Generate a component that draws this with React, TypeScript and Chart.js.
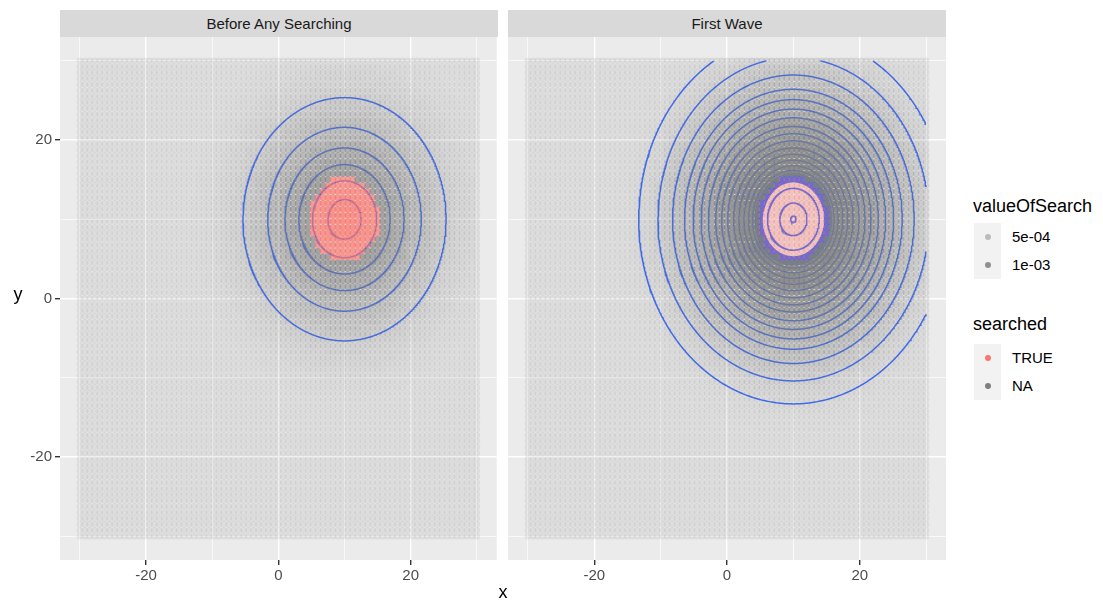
import React, { useEffect, useRef } from 'react';
import { Chart, registerables } from 'chart.js';

Chart.register(...registerables);

const FONT = "'Liberation Sans', Arial, Helvetica, sans-serif";

// Facet titles
const facetTitles = ['Before Any Searching', 'First Wave'];

// Search grid (cell centres run from -30 to 30 on both axes)
const gridFrom = -30;
const gridTo = 30;
const gridStep = 0.75;
const targetCentre = { x: 10, y: 10 };
const searchedRadius = 5.3;

// valueOfSearch per distance band around the target (upper band edges, values)
const beforeBandEdges = [1, 2, 3, 4, 5, 6, 7, 8, 9, 10, 11, 12, 13, 14, 15, 16, 17, 18, 19, 20, 21, 22, 23, 24, Infinity];
const beforeBandValues = [
  8.7e-4, 8.6e-4, 8.4e-4, 8.1e-4, 7.8e-4, 7.4e-4, 7.0e-4, 6.4e-4, 5.8e-4, 5.2e-4,
  4.53e-4, 4.0e-4, 3.47e-4, 2.93e-4, 2.4e-4, 2.0e-4, 1.6e-4, 1.27e-4, 1.0e-4, 0.8e-4,
  0.67e-4, 0.53e-4, 0.4e-4, 0.33e-4, 0.27e-4,
];
const waveBandEdges = [5.3, 6, 7, 8, 9, 10, 11, 12, 13, 14, 15, 16, 17, 18, 19, 20, 21, 22, 23, 24, 25, 26, 27, Infinity];
const waveBandValues = [
  3.0e-4, 10.7e-4, 10.4e-4, 10.0e-4, 9.47e-4, 8.93e-4, 8.27e-4, 7.6e-4, 6.8e-4, 6.0e-4,
  5.33e-4, 4.67e-4, 4.0e-4, 3.4e-4, 2.8e-4, 2.27e-4, 1.8e-4, 1.4e-4, 1.07e-4, 0.8e-4,
  0.6e-4, 0.47e-4, 0.37e-4, 0.27e-4,
];

// 2D density contour radii around the target
const beforeContourRadii = [15.35, 11.6, 9.0, 6.9, 4.85, 2.5];
const waveContourRadii = [
  23.3, 20.4, 18.2, 16.4, 15.1, 13.9, 12.8, 11.7, 10.8, 9.9, 9.0, 8.2, 7.45, 6.75, 6.15, 5.75,
  5.55, 5.45, 5.35, 5.25, 5.15, 5.05, 4.95, 4.85, 4.75, 3.9, 2.05, 0.4,
];

// Axes
const axisTicks = [-30, -20, -10, 0, 10, 20, 30];
const labelledTicks = [-20, 0, 20];
const axisLimits = [-33, 33];

// Legend scales
const valueLimits = [0, 12e-4];
const alphaRange = [0.1, 1];
const valueLegend = [5e-4, 1e-3];
const valueLegendLabels = ['5e-04', '1e-03'];
const searchedLegend = ['TRUE', 'NA'];
const searchedColours: Record<string, string> = { TRUE: '#F8766D', NA: '#7F7F7F' };

type Cell = { x: number; y: number; value: number; searched: boolean };

function buildCells(edges: number[], values: number[]): Cell[] {
  const cells: Cell[] = [];
  const n = Math.round((gridTo - gridFrom) / gridStep);
  for (let i = 0; i <= n; i++) {
    for (let j = 0; j <= n; j++) {
      const x = gridFrom + i * gridStep;
      const y = gridFrom + j * gridStep;
      const r = Math.hypot(x - targetCentre.x, y - targetCentre.y);
      let k = 0;
      while (r >= edges[k]) k++;
      cells.push({ x, y, value: values[k], searched: r < searchedRadius });
    }
  }
  return cells;
}

function alphaFor(v: number) {
  const t = Math.min(1, Math.max(0, (v - valueLimits[0]) / (valueLimits[1] - valueLimits[0])));
  return alphaRange[0] + (alphaRange[1] - alphaRange[0]) * t;
}

function rgba(hex: string, a: number) {
  const r = parseInt(hex.slice(1, 3), 16);
  const g = parseInt(hex.slice(3, 5), 16);
  const b = parseInt(hex.slice(5, 7), 16);
  return `rgba(${r},${g},${b},${a.toFixed(3)})`;
}

function contourPath(radius: number) {
  const pts: { x: number; y: number | null }[] = [];
  const steps = 720;
  for (let d = 0; d <= steps; d++) {
    const t = (d / steps) * Math.PI * 2;
    const x = targetCentre.x + radius * Math.cos(t);
    const y = targetCentre.y + radius * Math.sin(t);
    const inside = x >= gridFrom && x <= gridTo && y >= gridFrom && y <= gridTo;
    pts.push(inside ? { x, y } : { x, y: null });
  }
  return pts;
}

const panelBackground = {
  id: 'panelBackground',
  beforeDraw(chart: any) {
    const { ctx, chartArea: a } = chart;
    ctx.save();
    ctx.fillStyle = '#EBEBEB';
    ctx.fillRect(a.left, a.top, a.right - a.left, a.bottom - a.top);
    ctx.restore();
  },
};

const isMajor = (v: number) => labelledTicks.includes(v);

function makeConfig(cells: Cell[], radii: number[], showY: boolean, rightPad: number): any {
  const colours = cells.map((c) => rgba(c.searched ? searchedColours.TRUE : searchedColours.NA, alphaFor(c.value)));
  const gridOpts = {
    color: '#FFFFFF',
    lineWidth: (c: any) => (isMajor(c.tick?.value) ? 1.4 : 0.7),
    tickColor: (c: any) => (isMajor(c.tick?.value) ? '#333333' : 'rgba(0,0,0,0)'),
    tickWidth: 1.4,
    tickLength: 5,
  };
  const tickOpts = {
    autoSkip: false,
    maxRotation: 0,
    color: '#4D4D4D',
    font: { size: 15, family: FONT },
    callback: (v: number) => (isMajor(v) ? String(v) : ''),
  };
  return {
    type: 'scatter',
    data: {
      datasets: [
        {
          label: 'cells',
          data: cells.map((c) => ({ x: c.x, y: c.y })),
          pointRadius: 3.3,
          pointHoverRadius: 3.3,
          pointBorderWidth: 0,
          pointBackgroundColor: colours,
          pointBorderColor: 'rgba(0,0,0,0)',
          showLine: false,
          order: 0,
        },
        ...radii.map((r) => ({
          label: 'density',
          data: contourPath(r),
          showLine: true,
          spanGaps: false,
          pointRadius: 0,
          pointHoverRadius: 0,
          borderColor: '#3366FF',
          borderWidth: 1.5,
          fill: false,
          order: 1,
        })),
      ],
    },
    options: {
      responsive: false,
      animation: false,
      events: [],
      layout: { padding: { left: 0, top: 37, right: rightPad, bottom: 13 } },
      plugins: { legend: { display: false }, tooltip: { enabled: false } },
      scales: {
        x: {
          type: 'linear',
          min: axisLimits[0],
          max: axisLimits[1],
          afterBuildTicks: (s: any) => {
            s.ticks = axisTicks.map((v) => ({ value: v }));
          },
          afterFit: (s: any) => {
            s.height = 30;
          },
          ticks: { ...tickOpts, padding: 2 },
          grid: gridOpts,
          border: { display: false },
        },
        y: {
          type: 'linear',
          min: axisLimits[0],
          max: axisLimits[1],
          afterBuildTicks: (s: any) => {
            s.ticks = axisTicks.map((v) => ({ value: v }));
          },
          afterFit: (s: any) => {
            s.width = showY ? 60 : 8;
          },
          ticks: showY ? { ...tickOpts, padding: 3 } : { display: false },
          grid: showY ? gridOpts : { ...gridOpts, drawTicks: false },
          border: { display: false },
        },
      },
    },
    plugins: [panelBackground],
  };
}

function Panel({ cells, radii, showY, left, width, rightPad }: any) {
  const ref = useRef<HTMLCanvasElement | null>(null);
  useEffect(() => {
    if (!ref.current) return;
    const chart = new Chart(ref.current, makeConfig(cells, radii, showY, rightPad));
    return () => chart.destroy();
  }, []);
  return (
    <canvas
      ref={ref}
      width={width}
      height={603}
      style={{ position: 'absolute', left, top: 0, width, height: 603 }}
    />
  );
}

const beforeCells = buildCells(beforeBandEdges, beforeBandValues);
const waveCells = buildCells(waveBandEdges, waveBandValues);

function Strip({ left, text }: { left: number; text: string }) {
  return (
    <div
      style={{
        position: 'absolute',
        left,
        top: 10,
        width: 438,
        height: 27,
        background: '#D9D9D9',
        color: '#1A1A1A',
        fontSize: 15,
        lineHeight: '27px',
        textAlign: 'center',
      }}
    >
      {text}
    </div>
  );
}

function LegendKey({ top, colour, label }: { top: number; colour: string; label: string }) {
  return (
    <>
      <div style={{ position: 'absolute', left: 974, top, width: 27, height: 28, background: '#F2F2F2' }}>
        <div
          style={{
            position: 'absolute',
            left: 10.5,
            top: 11,
            width: 6,
            height: 6,
            borderRadius: '50%',
            background: colour,
          }}
        />
      </div>
      <div style={{ position: 'absolute', left: 1012, top, height: 28, lineHeight: '28px', fontSize: 15, color: '#000' }}>
        {label}
      </div>
    </>
  );
}

export default function App() {
  return (
    <div
      style={{
        position: 'absolute',
        left: 0,
        top: 0,
        width: 1103,
        height: 603,
        background: '#FFFFFF',
        fontFamily: FONT,
        overflow: 'hidden',
      }}
    >
      <Panel cells={beforeCells} radii={beforeContourRadii} showY={true} left={0} width={500} rightPad={2} />
      <Panel cells={waveCells} radii={waveContourRadii} showY={false} left={500} width={450} rightPad={4} />
      <Strip left={60} text={facetTitles[0]} />
      <Strip left={508} text={facetTitles[1]} />
      <div style={{ position: 'absolute', left: 493, top: 582, width: 20, textAlign: 'center', fontSize: 18, color: '#000' }}>x</div>
      <div style={{ position: 'absolute', left: 8, top: 284, width: 20, textAlign: 'center', fontSize: 18, color: '#000' }}>y</div>
      <div style={{ position: 'absolute', left: 973, top: 196, fontSize: 18, color: '#000' }}>valueOfSearch</div>
      {valueLegend.map((v, i) => (
        <LegendKey key={v} top={223 + i * 28} colour={rgba(searchedColours.NA, alphaFor(v))} label={valueLegendLabels[i]} />
      ))}
      <div style={{ position: 'absolute', left: 973, top: 314, fontSize: 18, color: '#000' }}>searched</div>
      {searchedLegend.map((s, i) => (
        <LegendKey key={s} top={344 + i * 28} colour={searchedColours[s]} label={s} />
      ))}
    </div>
  );
}
